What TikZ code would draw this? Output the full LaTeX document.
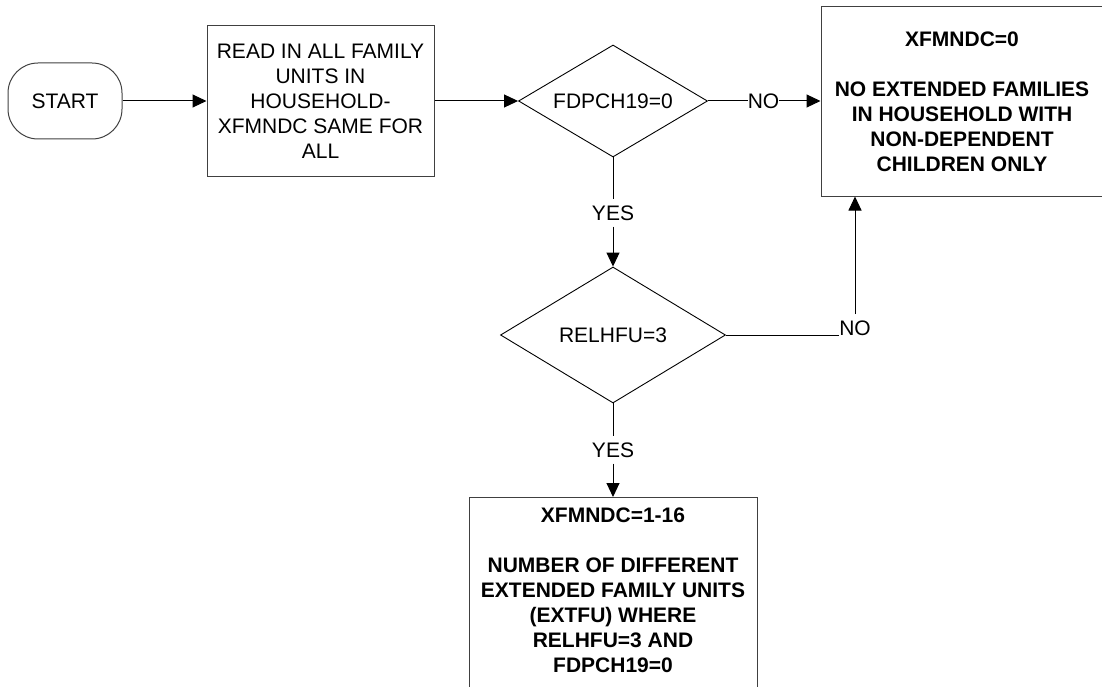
\documentclass[tikz,border=0pt]{standalone}
\usepackage{fontspec}
\setmainfont{Liberation Sans}
\usetikzlibrary{shapes.geometric,arrows.meta}
\begin{document}
\begin{tikzpicture}[x=1pt,y=-1pt,
  every node/.style={font=\fontsize{21}{25}\selectfont, text=black},
  line/.style={draw=black, line width=1pt},
  arr/.style={line, -{Triangle[length=14pt,width=13pt]}},
  boxstyle/.style={draw=black!75, line width=1pt, rectangle, align=center, inner sep=0pt},
  boldtext/.style={font=\fontsize{21}{25}\selectfont\bfseries},
  decision/.style={draw=black, line width=0.9pt, diamond, aspect=1.7, inner sep=0pt},
  lbl/.style={inner xsep=0pt, inner ysep=6pt}
]
\useasboundingbox (0,0) rectangle (1102,687);
\clip (0,0) rectangle (1102,687);
% nodes
\node[draw=black!75, line width=1pt, rounded corners=30pt, minimum width=114pt, minimum height=76pt, inner sep=0pt] (start) at (65,101) {START};
\node[boxstyle, minimum width=227pt, minimum height=151pt] (read) at (320.5,101) {READ IN ALL FAMILY\\UNITS IN\\HOUSEHOLD-\\XFMNDC SAME FOR\\ALL};
\node[decision, minimum width=189pt, minimum height=112pt] (d1) at (613,101) {FDPCH19=0};
\node[boxstyle, boldtext, minimum width=282pt, minimum height=189pt] (nodep) at (962,101.5) {XFMNDC=0\\[25pt]NO EXTENDED FAMILIES\\IN HOUSEHOLD WITH\\NON-DEPENDENT\\CHILDREN ONLY};
\node[decision, minimum width=225pt, minimum height=136pt] (d2) at (613,335) {RELHFU=3};
\node[boxstyle, minimum width=288pt, minimum height=210pt, anchor=north] (count) at (613,497) {};
\node[boldtext, align=center, inner sep=0pt, anchor=north] (counttext) at (613,507.5) {XFMNDC=1-16\\[25pt]NUMBER OF DIFFERENT\\EXTENDED FAMILY UNITS\\(EXTFU) WHERE\\RELHFU=3 AND\\FDPCH19=0};
% labels
\node[lbl] (no1) at (763.5,101) {NO};
\node[lbl] (yes1) at (613,213) {YES};
\node[lbl, anchor=base] (no2) at (855,335) {NO};
\node[lbl] (yes2) at (613,450) {YES};
% connectors
\draw[arr] (start) -- (read);
\draw[arr] (read) -- (d1);
\draw[line] (d1) -- (no1);
\draw[arr] (no1.east) -- (nodep.west |- no1.east);
\draw[line] (d1) -- (yes1);
\draw[arr] (yes1) -- (d2);
\draw[line] (d2.east) -- (no2.base west);
\draw[arr] (no2.north) -- (no2.north |- nodep.south);
\draw[line] (d2) -- (yes2);
\draw[arr] (yes2) -- (count);
\end{tikzpicture}
\end{document}
